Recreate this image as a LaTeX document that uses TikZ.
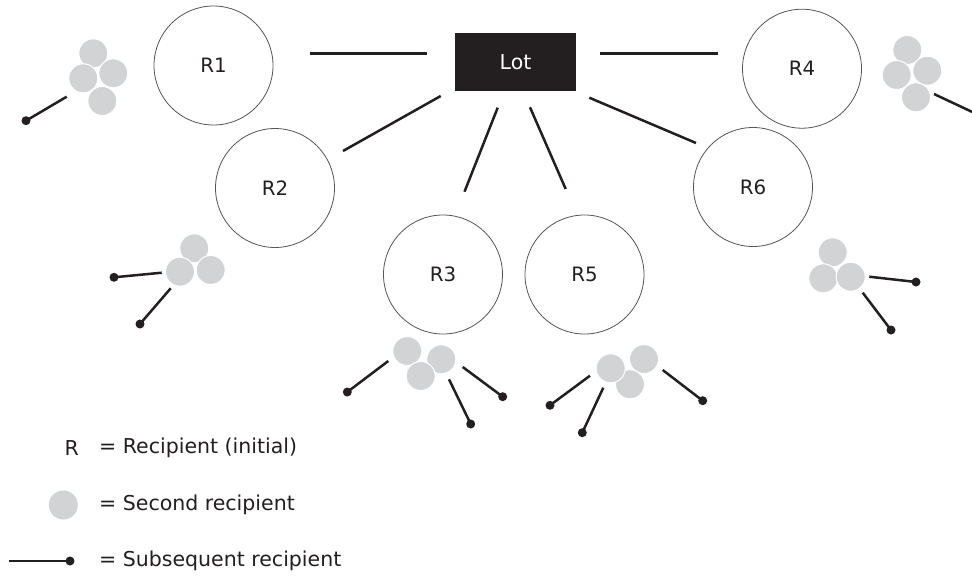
\documentclass[tikz,border=0pt]{standalone}
\usepackage{fontspec}
\setmainfont{DejaVu Sans}
\definecolor{ink}{HTML}{231F20}
\definecolor{dotgray}{HTML}{D1D3D4}
\definecolor{rimgray}{HTML}{555555}
\tikzset{
  recip/.style={circle, draw=rimgray, line width=0.8pt, minimum size=119pt, inner sep=0pt,
    font=\fontsize{19.8}{23}\selectfont, text=ink},
  lotbox/.style={rectangle, fill=ink, minimum width=121pt, minimum height=58pt, inner sep=0pt,
    text=white, font=\fontsize{20.5}{24}\selectfont},
  second/.style={circle, fill=dotgray, draw=white, line width=1pt, minimum size=29pt, inner sep=0pt},
  link/.style={draw=ink, line width=2.5pt},
  sub/.style={draw=ink, line width=2.5pt},
  enddot/.style={circle, fill=ink, minimum size=9pt, inner sep=0pt},
  legtext/.style={anchor=west, inner sep=0pt, text=ink, font=\fontsize{20.5}{24}\selectfont},
}
\begin{document}
\begin{tikzpicture}[x=1pt, y=-1pt]
\useasboundingbox[fill=white] (0,0) rectangle (972,576);

% main nodes
\node[lotbox] (Lot) at (515.5,62) {Lot};
\node[recip] (R1) at (213.5,65.5) {R1};
\node[recip] (R2) at (275,188) {R2};
\node[recip] (R3) at (443,274.5) {R3};
\node[recip] (R4) at (802,68.7) {R4};
\node[recip] (R5) at (584.5,274.5) {R5};
\node[recip] (R6) at (753,187) {R6};

% connector end points
\coordinate (l1a) at (426.7,53.3); \coordinate (l1b) at (309.5,53.3);
\coordinate (l4a) at (600,53.3);   \coordinate (l4b) at (717.7,53.3);
\coordinate (l2a) at (440.7,96);   \coordinate (l2b) at (343,151);
\coordinate (l3a) at (497.7,107.7);\coordinate (l3b) at (464.5,191.7);
\coordinate (l5a) at (530,107.3);  \coordinate (l5b) at (565.7,189);
\coordinate (l6a) at (589.3,97.7); \coordinate (l6b) at (696,143);
\path[link] (l1a) -- (l1b);
\path[link] (l4a) -- (l4b);
\path[link] (l2a) -- (l2b);
\path[link] (l3a) -- (l3b);
\path[link] (l5a) -- (l5b);
\path[link] (l6a) -- (l6b);

% second recipients: R1
\node[second] (s1a) at (93.3,53.3) {};
\node[second] (s1b) at (83.3,78.3) {};
\node[second] (s1c) at (113.3,73.3) {};
\node[second] (s1d) at (102.3,101) {};
% R4
\node[second] (s4a) at (907.3,50) {};
\node[second] (s4b) at (896.7,75) {};
\node[second] (s4c) at (927.3,70.7) {};
\node[second] (s4d) at (916,97.3) {};
% R2
\node[second] (s2a) at (194.3,248.3) {};
\node[second] (s2c) at (210.7,270) {};
\node[second] (s2b) at (180,271.7) {};
% R6
\node[second] (s6a) at (832.7,252.3) {};
\node[second] (s6b) at (823.3,278.3) {};
\node[second] (s6c) at (850.7,276.7) {};
% R3
\node[second] (s3a) at (407.3,351) {};
\node[second] (s3c) at (441.3,359.3) {};
\node[second] (s3b) at (420.7,376) {};
% R5
\node[second] (s5b) at (644,359) {};
\node[second] (s5c) at (630,384.3) {};
\node[second] (s5a) at (610.7,368.3) {};

% subsequent recipients
\coordinate (t1) at (66.7,96.7);  \node[enddot] (d1) at (26,120.7) {};
\coordinate (t4) at (934,94);     \coordinate (d4) at (977,114.2);
\coordinate (t2a) at (161.7,272.7); \node[enddot] (d2a) at (114,277.3) {};
\coordinate (t2b) at (170.7,288.3); \node[enddot] (d2b) at (140,324) {};
\coordinate (t6a) at (869.3,276.7); \node[enddot] (d6a) at (916,282) {};
\coordinate (t6b) at (862.7,292.7); \node[enddot] (d6b) at (891,330) {};
\coordinate (t3a) at (388.3,361);   \node[enddot] (d3a) at (347.3,392) {};
\coordinate (t3b) at (449,379.3);   \node[enddot] (d3b) at (470.7,424) {};
\coordinate (t3c) at (462.7,367);   \node[enddot] (d3c) at (502.7,396.7) {};
\coordinate (t5a) at (590,375.7);   \node[enddot] (d5a) at (550,405.3) {};
\coordinate (t5b) at (603.3,387.7); \node[enddot] (d5b) at (582.3,432.7) {};
\coordinate (t5c) at (662.7,370);   \node[enddot] (d5c) at (702.7,400.7) {};
\path[sub] (t1) -- (d1.center);
\path[sub] (t4) -- (d4);
\path[sub] (t2a) -- (d2a.center);
\path[sub] (t2b) -- (d2b.center);
\path[sub] (t6a) -- (d6a.center);
\path[sub] (t6b) -- (d6b.center);
\path[sub] (t3a) -- (d3a.center);
\path[sub] (t3b) -- (d3b.center);
\path[sub] (t3c) -- (d3c.center);
\path[sub] (t5a) -- (d5a.center);
\path[sub] (t5b) -- (d5b.center);
\path[sub] (t5c) -- (d5c.center);

% legend
\node[inner sep=0pt, text=ink, font=\fontsize{20.5}{24}\selectfont] (legR) at (71.7,448) {R};
\node[legtext] (legRt) at (99,448) {= Recipient (initial)};
\node[second, draw=none] (legS) at (63.3,505) {};
\node[legtext] (legSt) at (99,505) {= Second recipient};
\coordinate (legL) at (9.3,561);
\node[enddot] (legD) at (70,561) {};
\path[sub, line width=2pt] (legL) -- (legD.center);
\node[legtext] (legDt) at (99,561) {= Subsequent recipient};
\end{tikzpicture}
\end{document}
